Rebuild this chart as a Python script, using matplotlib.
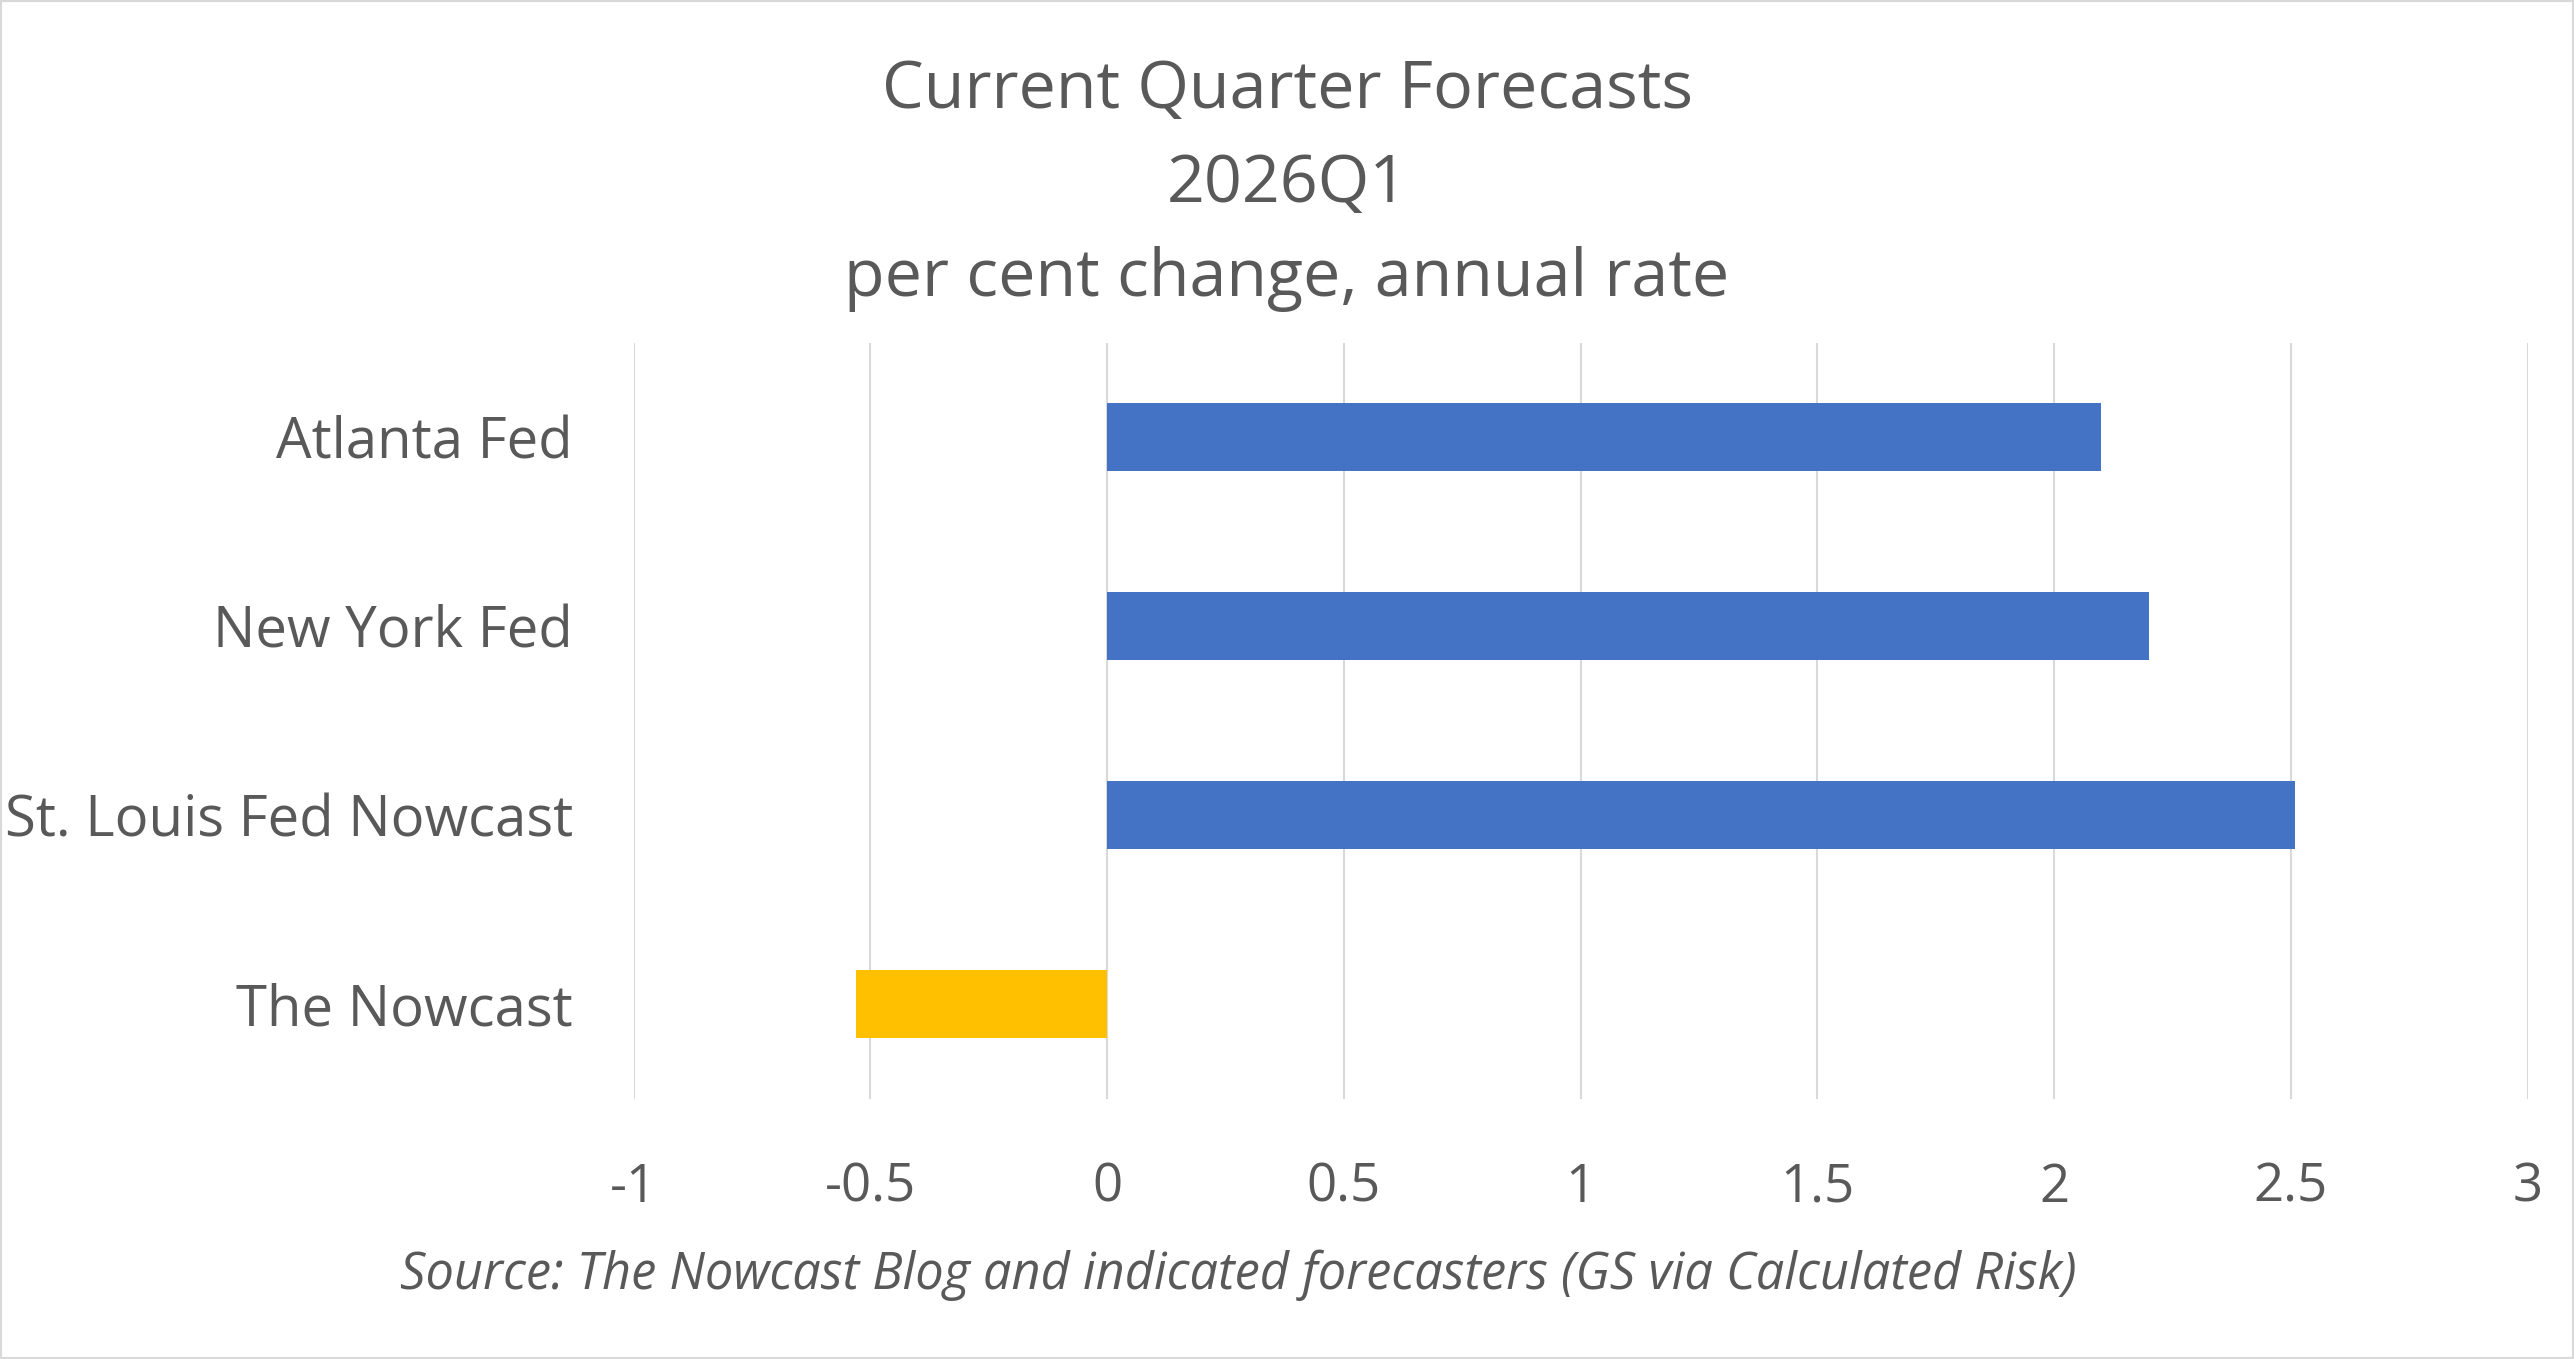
import matplotlib
matplotlib.use("Agg")
import matplotlib.pyplot as plt
from matplotlib.patches import Rectangle

categories = ["Atlanta Fed", "New York Fed", "St. Louis Fed Nowcast", "The Nowcast"]
values = [2.10, 2.20, 2.51, -0.53]
colors = ["#4472C4", "#4472C4", "#4472C4", "#FFC000"]
xticks = [-1, -0.5, 0, 0.5, 1, 1.5, 2, 2.5, 3]
xtick_labels = ["-1", "-0.5", "0", "0.5", "1", "1.5", "2", "2.5", "3"]
title_lines = ["Current Quarter Forecasts", "2026Q1", "per cent change, annual rate"]
source = "Source: The Nowcast Blog and indicated forecasters (GS via Calculated Risk)"

W, H = 2574, 1359
plt.rcParams['font.family'] = ['Open Sans', 'DejaVu Sans']
fig = plt.figure(figsize=(W / 100, H / 100), dpi=100)
fig.patch.set_facecolor("white")

def px(x, y):
    return x / W, 1 - y / H

ax = fig.add_axes([633.5 / W, 1 - 1098.5 / H, 1894 / W, 756 / H])
ypos = list(range(len(categories)))
ax.barh(ypos, values, height=0.355, color=colors, zorder=3)
ax.set_ylim(len(categories) - 0.5, -0.5)
ax.set_xlim(-1, 3)
ax.set_xticks(xticks)
ax.set_xticklabels(xtick_labels)
ax.set_yticks(ypos)
ax.set_yticklabels(categories)
for s in ax.spines.values():
    s.set_visible(False)
ax.grid(axis="x", color="#d9d9d9", linewidth=1.5, zorder=0)
ax.tick_params(axis="both", length=0, colors="#595959")
ax.tick_params(axis="x", pad=45, labelsize=38)
ax.tick_params(axis="y", pad=43.5, labelsize=40.5)

tc = "#595959"
for i, line in enumerate(title_lines):
    fig.text(*px(1287, 91 + 94 * i), line, ha="center", va="center", fontsize=47.8, color=tc)

fig.text(*px(1238, 1275), source, ha="center", va="center", fontsize=36.4, color=tc, style="italic")

fig.patches.append(Rectangle((0, 0), 1, 1, transform=fig.transFigure, fill=False,
                             edgecolor="#d9d9d9", linewidth=3))

fig.savefig("out.png", dpi=100, facecolor="white")
